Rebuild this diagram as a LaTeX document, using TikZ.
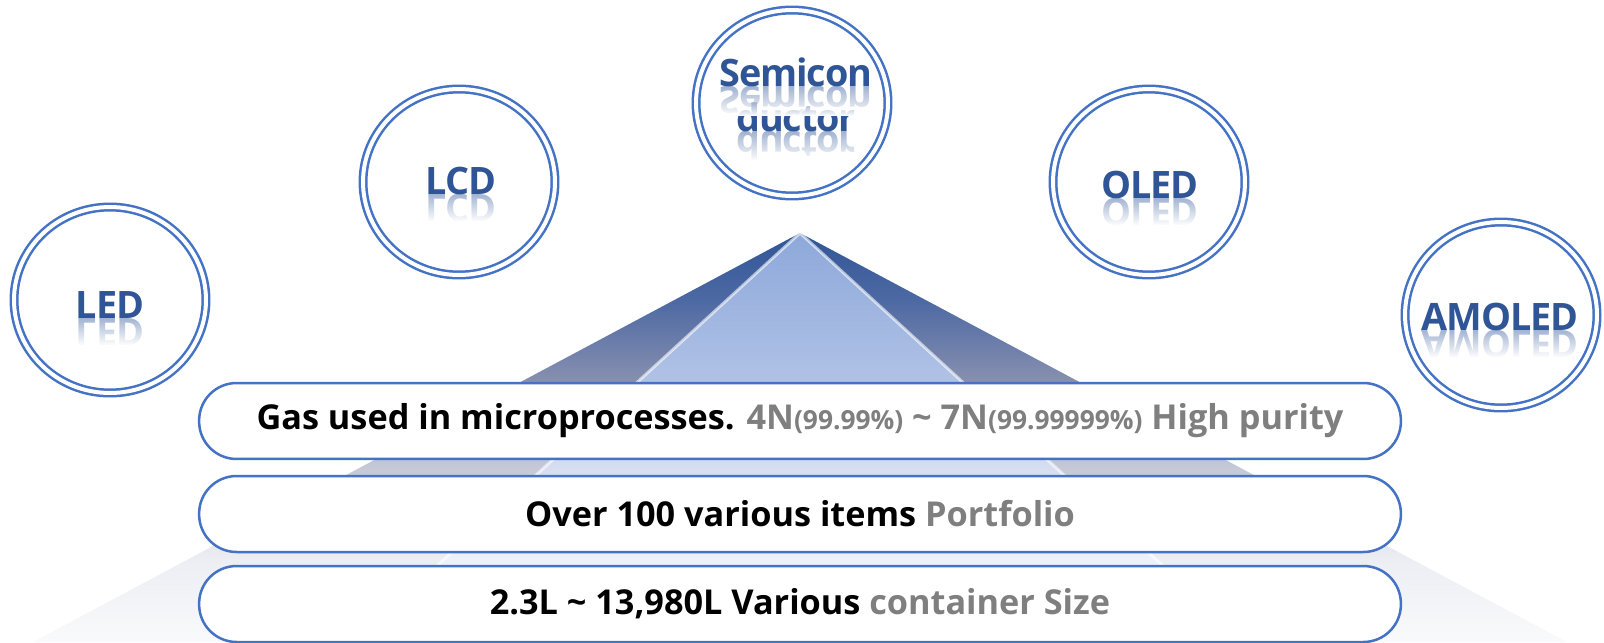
\documentclass[tikz,border=0pt]{standalone}
\usepackage{fontspec}
\setmainfont{Open Sans}
\newfontfamily\ringfont{Open Sans}[LetterSpace=-3]
\usetikzlibrary{shapes.geometric, fadings, positioning}
\definecolor{ringblue}{HTML}{4472C4}
\definecolor{textblue}{HTML}{2F5597}
\definecolor{graytext}{HTML}{7F7F7F}
\definecolor{oa}{HTML}{2F5597}
\definecolor{ob}{HTML}{4D69A3}
\definecolor{oc}{HTML}{8890B0}
\definecolor{od}{HTML}{C5C9D7}
\definecolor{oe}{HTML}{ECEEF3}
\definecolor{of}{HTML}{FAFAFC}
\definecolor{ia}{HTML}{8DA8DA}
\definecolor{ib}{HTML}{B0C2E6}
\definecolor{ic}{HTML}{D6DEF0}
\definecolor{id}{HTML}{EEF1F8}
\definecolor{ie}{HTML}{FAFBFD}
\pgfdeclareverticalshading{outerface}{100bp}{color(0bp)=(of); color(25bp)=(of); color(35bp)=(oe); color(46.3bp)=(od); color(56.7bp)=(oc); color(66.8bp)=(ob); color(75bp)=(oa); color(100bp)=(oa)}
\pgfdeclareverticalshading{innerface}{100bp}{color(0bp)=(ie); color(25bp)=(ie); color(35bp)=(id); color(46.3bp)=(ic); color(56.7bp)=(ib); color(75bp)=(ia); color(100bp)=(ia)}
\tikzfading[name=fadeup, top color=transparent!100, middle color=transparent!25, bottom color=transparent!0]

\begin{document}
\begin{tikzpicture}[x=0.02cm, y=-0.02cm,
	ring/.style={ellipse, draw=ringblue, line width=0.05cm, double=white, double distance=0.08cm, minimum width=3.84cm, minimum height=3.72cm, inner sep=0pt},
	ringtext/.style={text=textblue, font=\ringfont\bfseries\fontsize{21.5}{21.5}\selectfont, inner sep=0pt, anchor=base},
	mirror/.style={ringtext, transform shape, yscale=-1, opacity=0.45},
	band/.style={draw=ringblue, line width=0.05cm, fill=white, rounded corners=0.75cm, minimum width=24.04cm, minimum height=1.52cm, inner sep=0pt, font=\bfseries\fontsize{19.5}{19.5}\selectfont}]
	\useasboundingbox (0,0) rectangle (1604,642);
	\shade[shading=outerface] (800,233) -- (1567,642) -- (33,642) -- cycle;
	\shade[shading=innerface] (800,233) -- (1246,642) -- (354,642) -- cycle;
	\draw[white, opacity=0.6, line width=0.06cm] (354,642) -- (800,233) -- (1246,642);

	\node[band] (purity) at (800,421) {Gas used in microprocesses. {\color{graytext}4N{\fontsize{15}{15}\selectfont(99.99\%)} \textasciitilde{} 7N{\fontsize{15}{15}\selectfont(99.99999\%)} High purity}};
	\node[band] (items) at (800,514) {Over 100 various items {\color{graytext}Portfolio}};
	\node[band] (size) at (800,604) {2.3L \textasciitilde{} 13,980L Various {\color{graytext}container Size}};

	\node[ring] (led) at (110,300) {};
	\node[ring] (lcd) at (459,182) {};
	\node[ring] (semi) at (792,103) {};
	\node[ring] (oled) at (1149,182) {};
	\node[ring] (amoled) at (1501,315) {};

	\node[ringtext] (ledtxt) at (110,318) {LED};
	\node[ringtext] (lcdtxt) at (461,194) {LCD};
	\node[ringtext] (semitxt) at (796,87) {Semicon};
	\node[ringtext] (ducttxt) at (796,132) {ductor};
	\node[ringtext] (oledtxt) at (1150,198) {OLED};
	\node[ringtext] (amoledtxt) at (1500,330) {AMOLED};

	\node[mirror] (ledflip) at (ledtxt.base) {LED};
	\node[mirror] (lcdflip) at (lcdtxt.base) {LCD};
	\node[mirror] (semiflip) at (semitxt.base) {Semicon};
	\node[mirror] (ductflip) at (ducttxt.base) {ductor};
	\node[mirror] (oledflip) at (oledtxt.base) {OLED};
	\node[mirror] (amoledflip) at (amoledtxt.base) {AMOLED};
	\foreach \n in {ledflip, lcdflip, semiflip, ductflip, oledflip, amoledflip}
		\fill[white, path fading=fadeup] (\n.north west) rectangle (\n.south east);
\end{tikzpicture}
\end{document}
